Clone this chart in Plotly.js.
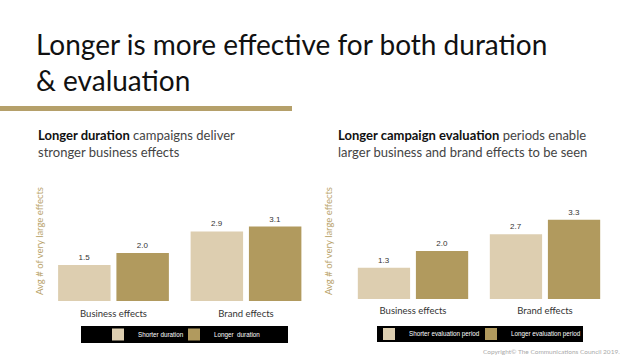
<!DOCTYPE html>
<html>
<head>
<meta charset="utf-8">
<script src="https://cdn.plot.ly/plotly-3.0.1.min.js"></script>
<style>html,body{margin:0;padding:0;background:#fff;}</style>
</head>
<body>
<div id="chart" style="width:630px;height:360px;"></div>
<script>
// ---- data ----
var categories = ["Business effects", "Brand effects"];
var durationShorter = [1.5, 2.9];
var durationLonger = [2.0, 3.1];
var evalShorter = [1.3, 2.7];
var evalLonger = [2.0, 3.3];
var seriesNamesLeft = ["Shorter duration", "Longer  duration"];
var seriesNamesRight = ["Shorter evaluation period", "Longer evaluation period"];

var LIGHT = "#ddceb0";
var DARK = "#b19a5e";
var FONT = "Lato, 'Open Sans', sans-serif";
var W = 630, H = 360;
function px(x){ return x / W; }
function py(y){ return 1 - y / H; }

function bar(y, name, color, xa, ya, leg, lw){
  return {
    type: "bar", x: categories, y: y, name: name,
    xaxis: xa, yaxis: ya, legend: leg, legendwidth: lw,
    marker: {color: color, line: {width: 0}},
    texttemplate: "%{y:.1f}", textposition: "outside", cliponaxis: false,
    textfont: {family: "Liberation Sans, Arial, sans-serif", size: 8, color: "#333"},
    hoverinfo: "x+y+name"
  };
}

var data = [
  bar(durationShorter, seriesNamesLeft[0], LIGHT, "x", "y", "legend", 31),
  bar(durationLonger, seriesNamesLeft[1], DARK, "x", "y", "legend", 60),
  bar(evalShorter, seriesNamesRight[0], LIGHT, "x2", "y2", "legend2", 57),
  bar(evalLonger, seriesNamesRight[1], DARK, "x2", "y2", "legend2", 80)
];

var xCommon = {
  type: "category", range: [-0.5, 1.5], showgrid: false, zeroline: false, showline: false,
  ticks: "", tickfont: {family: FONT, size: 9.5, color: "#333"}, fixedrange: true
};
var yCommon = {
  range: [0, 5], showgrid: false, zeroline: false, showline: false,
  showticklabels: false, ticks: "", fixedrange: true
};

var legendCommon = {
  orientation: "h", bgcolor: "rgba(0,0,0,0)", borderwidth: 0,
  font: {family: "Liberation Sans, Arial, sans-serif", size: 6.3, color: "#fff"},
  yanchor: "middle", xanchor: "left", itemclick: false, itemdoubleclick: false
};

var layout = {
  width: W, height: H,
  margin: {l: 0, r: 0, t: 0, b: 0},
  paper_bgcolor: "#fff", plot_bgcolor: "#fff",
  barmode: "group", bargap: 0.12, bargroupgap: 0.1,
  showlegend: true,
  title: {
    text: "Longer is more effective for both duration<br>& evaluation",
    font: {family: FONT, size: 28, color: "#111"},
    x: px(36), xanchor: "left", xref: "paper",
    y: py(55), yanchor: "top", yref: "paper"
  },
  xaxis: Object.assign({}, xCommon, {domain: [px(47.25), px(312.25)], anchor: "y", ticklabelstandoff: 5}),
  yaxis: Object.assign({}, yCommon, {domain: [py(301), py(181)], anchor: "x"}),
  xaxis2: Object.assign({}, xCommon, {domain: [px(347), px(611)], anchor: "y2", ticklabelstandoff: 4}),
  yaxis2: Object.assign({}, yCommon, {domain: [py(299), py(179)], anchor: "x2"}),
  legend: Object.assign({}, legendCommon, {x: px(98), y: py(334.5)}),
  legend2: Object.assign({}, legendCommon, {x: px(369), y: py(334)}),
  shapes: [
    {type: "rect", xref: "paper", yref: "paper", x0: 0, x1: px(292), y0: py(111), y1: py(106),
     fillcolor: "#b5a06a", line: {width: 0}, layer: "above"},
    {type: "rect", xref: "paper", yref: "paper", x0: px(81), x1: px(288), y0: py(343), y1: py(326),
     fillcolor: "#000", line: {width: 0}, layer: "above"},
    {type: "rect", xref: "paper", yref: "paper", x0: px(377), x1: px(583), y0: py(342), y1: py(326),
     fillcolor: "#000", line: {width: 0}, layer: "above"}
  ],
  annotations: [
    {xref: "paper", yref: "paper", x: px(36), y: py(125), xanchor: "left", yanchor: "top", align: "left",
     showarrow: false, font: {family: FONT, size: 13, color: "#444"},
     text: "<b style='color:#111'>Longer duration</b> campaigns deliver<br>stronger business effects"},
    {xref: "paper", yref: "paper", x: px(336), y: py(125), xanchor: "left", yanchor: "top", align: "left",
     showarrow: false, font: {family: FONT, size: 13, color: "#444"},
     text: "<b style='color:#111'>Longer campaign evaluation</b> periods enable<br>larger business and brand effects to be seen"},
    {xref: "paper", yref: "paper", x: px(40), y: py(241), xanchor: "center", yanchor: "middle",
     textangle: -90, showarrow: false, font: {family: FONT, size: 9.5, color: "#b9a36b"},
     text: "Avg # of very large effects"},
    {xref: "paper", yref: "paper", x: px(329), y: py(241), xanchor: "center", yanchor: "middle",
     textangle: -90, showarrow: false, font: {family: FONT, size: 9.5, color: "#b9a36b"},
     text: "Avg # of very large effects"},
    {xref: "paper", yref: "paper", x: px(622), y: py(351), xanchor: "right", yanchor: "middle",
     showarrow: false, font: {family: FONT, size: 6.5, color: "#aaa"},
     text: "Copyright© The Communications Council 2019."}
  ]
};

Plotly.newPlot("chart", data, layout, {displayModeBar: false, staticPlot: true});
</script>
</body>
</html>
